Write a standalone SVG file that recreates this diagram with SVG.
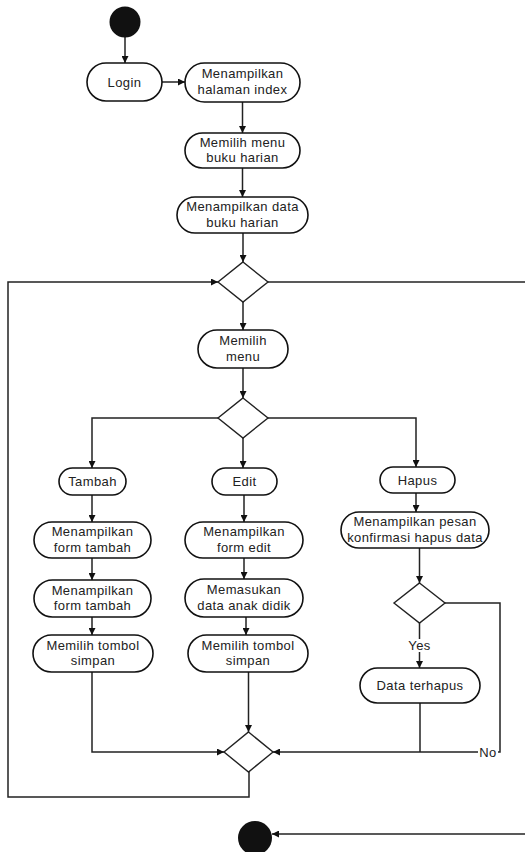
<svg xmlns="http://www.w3.org/2000/svg" width="525" height="852" viewBox="0 0 525 852">
<defs>
<marker id="arr" viewBox="0 0 10 10" refX="10" refY="5" markerWidth="7" markerHeight="7" markerUnits="userSpaceOnUse" orient="auto">
<path d="M0,0 L10,5 L0,10 Z" fill="#111"/>
</marker>
<style>
.n rect{fill:#fff;stroke:#111;stroke-width:1.6}
.n polygon{fill:#fff;stroke:#222;stroke-width:1.4}
.n text, .lbl{font-family:"Liberation Sans",Arial,sans-serif;font-size:13px;letter-spacing:0.4px;fill:#222;text-anchor:middle}
#edges path{fill:none;stroke:#222;stroke-width:1.5}
.a{marker-end:url(#arr)}
</style>
</defs>
<rect width="525" height="852" fill="#fff"/>

<g id="edges">
<path class="a" d="M125,37 V63"/>
<path class="a" d="M162,82 H185"/>
<path class="a" d="M242.5,102 V133"/>
<path class="a" d="M242.5,168 V197"/>
<path class="a" d="M243,233 V262"/>
<path class="a" d="M249,772 V797 H8 V282 H218"/>
<path d="M268,282 H525"/>
<path class="a" d="M243,302 V330"/>
<path class="a" d="M243,368 V398"/>
<path class="a" d="M218,418 H92 V468"/>
<path class="a" d="M243,438 V468"/>
<path class="a" d="M268,418 H416 V467"/>
<path class="a" d="M92,495 V522"/>
<path class="a" d="M92,558 V580"/>
<path class="a" d="M92,617 V635"/>
<path class="a" d="M92,672 V752 H224"/>
<path class="a" d="M244,495 V522"/>
<path class="a" d="M244,558 V579"/>
<path class="a" d="M246,617 V635"/>
<path class="a" d="M248.5,672 V732"/>
<path class="a" d="M416,493 V512"/>
<path class="a" d="M419.5,548 V583"/>
<path class="a" d="M419.5,623 V668"/>
<path d="M420,703 V752"/>
<path class="a" d="M445,603 H500 V752 H273"/>
<path class="a" d="M525,834 H272"/>
<rect x="406" y="639" width="27" height="13" fill="#fff"/>
<text class="lbl" x="419.5" y="650">Yes</text>
<rect x="478" y="746" width="20" height="12" fill="#fff"/>
<text class="lbl" x="488" y="757">No</text>
</g>

<g id="start" class="n"><circle cx="125" cy="22" r="15.5" fill="#111"/></g>
<g id="login" class="n"><rect x="87" y="63" width="75" height="38" rx="19"/><text x="124.5" y="86.5">Login</text></g>
<g id="index" class="n"><rect x="185" y="63" width="115" height="39" rx="19.5"/><text x="242.5" y="78">Menampilkan</text><text x="242.5" y="94">halaman index</text></g>
<g id="menuBuku" class="n"><rect x="185" y="133" width="115" height="35" rx="17.5"/><text x="242.5" y="146.5">Memilih menu</text><text x="242.5" y="162">buku harian</text></g>
<g id="dataBuku" class="n"><rect x="177" y="197" width="131" height="36" rx="18"/><text x="242.5" y="211">Menampilkan data</text><text x="242.5" y="226.5">buku harian</text></g>
<g id="dec1" class="n"><polygon points="243,262 268,282 243,302 218,282"/></g>
<g id="memilihMenu" class="n"><rect x="198" y="330" width="90" height="38" rx="19"/><text x="243" y="345">Memilih</text><text x="243" y="361">menu</text></g>
<g id="dec2" class="n"><polygon points="243,398 268,418 243,438 218,418"/></g>
<g id="tambah" class="n"><rect x="59" y="468" width="67" height="27" rx="13.5"/><text x="92.5" y="486">Tambah</text></g>
<g id="edit" class="n"><rect x="212" y="468" width="65" height="27" rx="13.5"/><text x="244.5" y="486">Edit</text></g>
<g id="hapus" class="n"><rect x="380" y="467" width="75" height="26" rx="13"/><text x="417.5" y="484.5">Hapus</text></g>
<g id="formTambah1" class="n"><rect x="34" y="522" width="117" height="36" rx="18"/><text x="92.5" y="536">Menampilkan</text><text x="92.5" y="551.5">form tambah</text></g>
<g id="formTambah2" class="n"><rect x="34" y="580" width="117" height="37" rx="18.5"/><text x="92.5" y="594.5">Menampilkan</text><text x="92.5" y="610">form tambah</text></g>
<g id="simpanTambah" class="n"><rect x="33" y="635" width="120" height="37" rx="18.5"/><text x="93" y="649.5">Memilih tombol</text><text x="93" y="665">simpan</text></g>
<g id="formEdit" class="n"><rect x="185" y="522" width="118" height="36" rx="18"/><text x="244" y="536">Menampilkan</text><text x="244" y="551.5">form edit</text></g>
<g id="memasukan" class="n"><rect x="185" y="579" width="118" height="38" rx="19"/><text x="244" y="594">Memasukan</text><text x="244" y="610">data anak didik</text></g>
<g id="simpanEdit" class="n"><rect x="188" y="635" width="120" height="37" rx="18.5"/><text x="248" y="649.5">Memilih tombol</text><text x="248" y="665">simpan</text></g>
<g id="konfirmasi" class="n"><rect x="341" y="512" width="148" height="36" rx="18"/><text x="415" y="526">Menampilkan pesan</text><text x="415" y="541.5">konfirmasi hapus data</text></g>
<g id="dec3" class="n"><polygon points="419.5,583 445,603 419.5,623 394,603"/></g>
<g id="terhapus" class="n"><rect x="360" y="668" width="120" height="35" rx="17.5"/><text x="420" y="690">Data terhapus</text></g>
<g id="merge" class="n"><polygon points="248.5,732 273,752 248.5,772 224,752"/></g>
<g id="final" class="n"><circle cx="255" cy="838" r="17" fill="#111"/></g>
</svg>
